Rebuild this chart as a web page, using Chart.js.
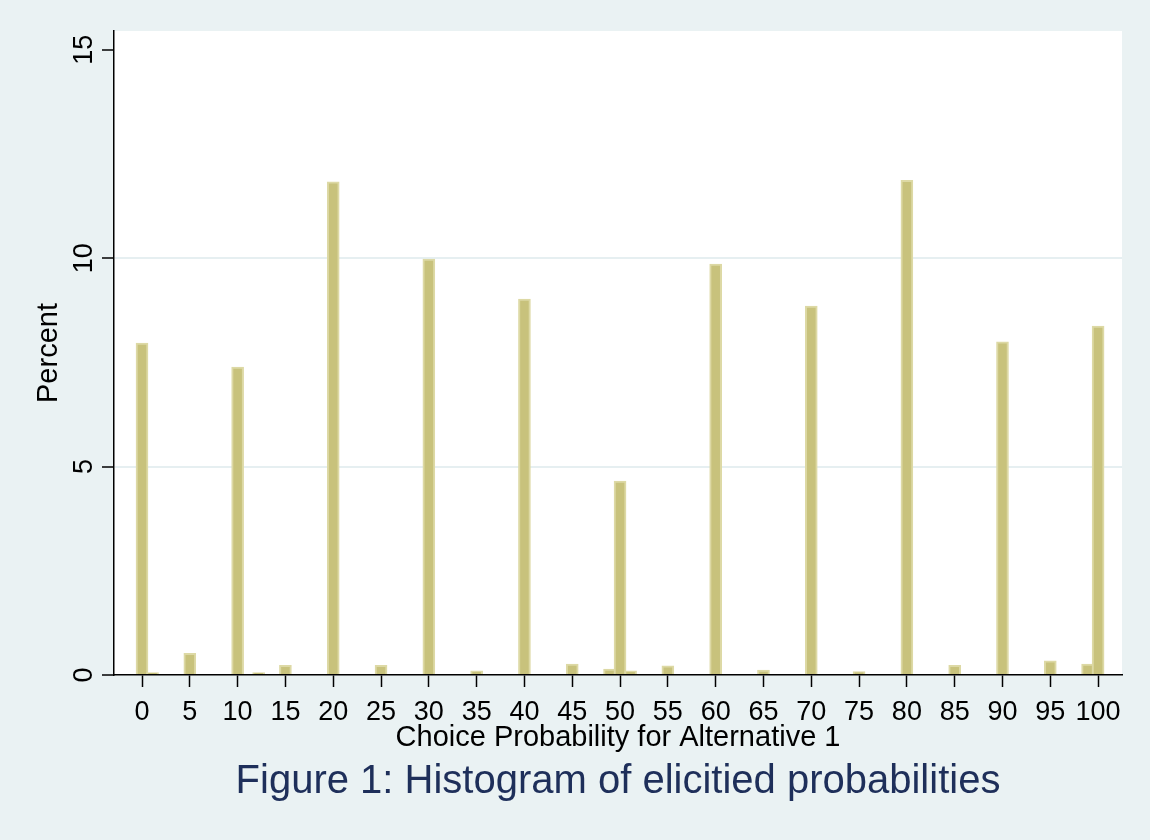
<!DOCTYPE html>
<html>
<head>
<meta charset="utf-8">
<script src="https://cdn.jsdelivr.net/npm/chart.js@4.4.0/dist/chart.umd.min.js"></script>
<style>
  html, body { margin: 0; padding: 0; background: #eaf2f3; }
  #wrap { width: 1150px; height: 840px; }
</style>
</head>
<body>
<div id="wrap"><canvas id="histogram-chart"></canvas></div>
<script>
// Histogram data (bin centre, percent)
let binCenters = [0, 1.1, 5, 10, 12.2, 15, 20, 25, 30, 35, 40, 45, 48.9, 50, 51.1, 55, 60, 65, 70, 75, 80, 85, 90, 95, 98.9, 100];
let percents = [7.96, 0.06, 0.52, 7.39, 0.06, 0.23, 11.83, 0.23, 9.98, 0.1, 9.02, 0.26, 0.14, 4.65, 0.1, 0.22, 9.86, 0.12, 8.85, 0.08, 11.87, 0.23, 7.99, 0.34, 0.26, 8.37];
let xTickValues = [0, 5, 10, 15, 20, 25, 30, 35, 40, 45, 50, 55, 60, 65, 70, 75, 80, 85, 90, 95, 100];
let yTickValues = [0, 5, 10, 15];
let yGridValues = [5, 10];

let barFill = 'rgba(200, 194, 124, 1)';
let barEdge = 'rgba(221, 217, 165, 1)';
let bgColor = '#eaf2f3';
let figureTitle = 'Figure 1: Histogram of elicitied probabilities';

// white plot region on the light blue-gray page
const plotBackground = {
    id: 'plotBackground',
    beforeDraw(chart) {
        const {ctx, chartArea} = chart;
        ctx.save();
        ctx.fillStyle = bgColor;
        ctx.fillRect(0, 0, chart.width, chart.height);
        ctx.fillStyle = '#ffffff';
        ctx.fillRect(chartArea.left, chartArea.top, chartArea.right - chartArea.left, chartArea.bottom - chartArea.top);
        ctx.restore();
    }
};

// figure caption, centred under the plot region
const figureCaption = {
    id: 'figureCaption',
    afterDraw(chart) {
        const {ctx, chartArea} = chart;
        ctx.save();
        ctx.fillStyle = '#1e2f5a';
        ctx.font = '40px "Liberation Sans"';
        ctx.textAlign = 'center';
        ctx.textBaseline = 'middle';
        ctx.fillText(figureTitle, (chartArea.left + chartArea.right) / 2, chartArea.bottom + 107);
        ctx.restore();
    }
};

const histCtx = document.getElementById('histogram-chart').getContext('2d');

const histChart = new Chart(histCtx, {
    type: 'bar',
    data: {
        datasets: [{
            data: binCenters.map((x, i) => ({x: x, y: percents[i]})),
            backgroundColor: barFill,
            borderColor: barEdge,
            borderWidth: 2,
            borderSkipped: 'bottom',
            barThickness: 12
        }]
    },
    options: {
        responsive: true,
        maintainAspectRatio: false,
        animation: false,
        layout: {
            padding: { top: 31, right: 28, left: 0, bottom: 83 }
        },
        scales: {
            x: {
                type: 'linear',
                min: -2.93,
                max: 102.5,
                offset: false,
                afterBuildTicks: (scale) => { scale.ticks = xTickValues.map(v => ({value: v})); },
                afterFit: (scale) => { scale.height = 82; },
                grid: {
                    offset: false,
                    drawOnChartArea: false,
                    drawTicks: true,
                    tickLength: 12,
                    tickColor: '#000',
                    tickWidth: 1.5
                },
                border: { display: true, color: '#000', width: 1.5 },
                ticks: {
                    color: '#000',
                    font: { family: 'Liberation Sans', size: 27 },
                    maxRotation: 0,
                    autoSkip: false,
                    padding: 9
                },
                title: {
                    display: true,
                    text: 'Choice Probability for Alternative 1',
                    color: '#000',
                    font: { family: 'Liberation Sans', size: 29 },
                    padding: { top: 0, bottom: 2 }
                }
            },
            y: {
                min: 0,
                max: 15.45,
                afterBuildTicks: (scale) => { scale.ticks = yTickValues.map(v => ({value: v})); },
                afterFit: (scale) => { scale.width = 114; },
                grid: {
                    color: (c) => yGridValues.includes(c.tick && c.tick.value) ? '#e6eff1' : 'rgba(0,0,0,0)',
                    lineWidth: 2,
                    drawTicks: true,
                    tickLength: 12,
                    tickColor: '#000',
                    tickWidth: 1.5
                },
                border: { display: true, color: '#000', width: 1.5 },
                ticks: {
                    color: '#000',
                    font: { family: 'Liberation Sans', size: 27 },
                    minRotation: 90,
                    maxRotation: 90,
                    crossAlign: 'center',
                    padding: 2
                },
                title: {
                    display: true,
                    text: 'Percent',
                    color: '#000',
                    font: { family: 'Liberation Sans', size: 29 },
                    padding: { top: 32, bottom: 0 }
                }
            }
        },
        plugins: {
            legend: { display: false },
            tooltip: { enabled: false },
            title: { display: false }
        }
    },
    plugins: [plotBackground, figureCaption]
});
</script>
</body>
</html>
